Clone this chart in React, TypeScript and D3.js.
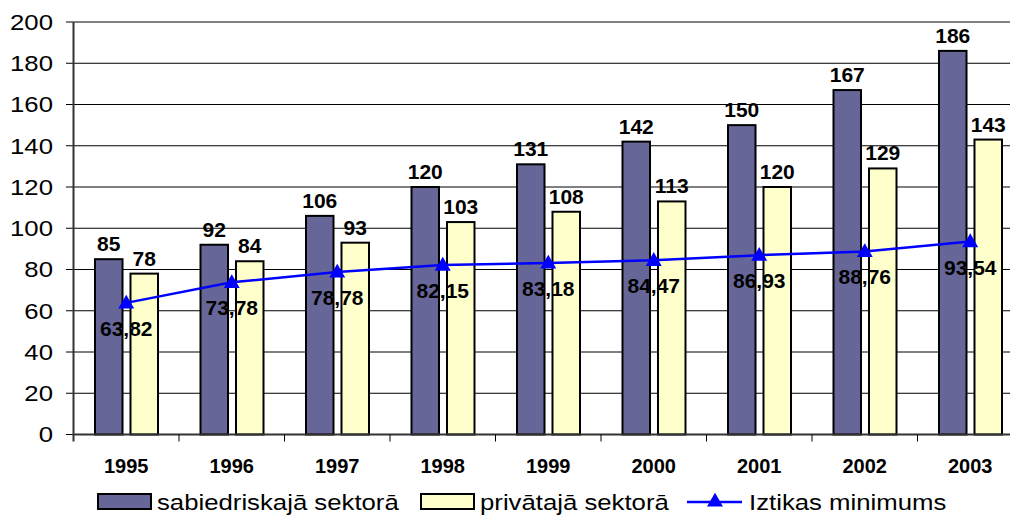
import * as d3 from 'd3'

const years = ['1995', '1996', '1997', '1998', '1999', '2000', '2001', '2002', '2003']
const publicSector = [85, 92, 106, 120, 131, 142, 150, 167, 186]
const privateSector = [78, 84, 93, 103, 108, 113, 120, 129, 143]
const subsistence = [63.82, 73.78, 78.78, 82.15, 83.18, 84.47, 86.93, 88.76, 93.54]
const yTicks = [0, 20, 40, 60, 80, 100, 120, 140, 160, 180, 200]

const seriesNames = ['sabiedriskajā sektorā', 'privātajā sektorā', 'Iztikas minimums']

const W = 1010
const H = 515
const FONT = 'Arial, "Liberation Sans", Helvetica, sans-serif'
// regular text in the source is a little wide
const SX = 1.17

const fmt = (v: number) => v.toFixed(2).replace('.', ',')

export default function App() {
  const left = 73.5
  const step = 105.5
  const x = d3.scaleBand<string>().domain(years).range([left, left + step * years.length])
  const inner = d3.scaleBand<string>()
    .domain(['pub', 'priv'])
    .range([21.5, x.bandwidth() - 21])
    .paddingInner(0.225)
  const y = d3.scaleLinear().domain([0, 200]).range([434.5, 22])

  const line = d3.line<number>()
    .x((_, i) => (x(years[i]) as number) + x.bandwidth() / 2)
    .y(d => y(d))

  const tri = d3.symbol().type(d3.symbolTriangle).size(110)()

  const bars = [
    { key: 'pub', values: publicSector, fill: '#666699' },
    { key: 'priv', values: privateSector, fill: '#FFFFCC' },
  ]

  return (
    <div style={{ position: 'absolute', left: 0, top: 0 }}>
      <svg width={W} height={H} style={{ display: 'block', fontFamily: FONT }}>
        <rect width={W} height={H} fill="#fff" />

        {/* grid */}
        {yTicks.slice(1, -1).map(t => (
          <line key={t} x1={left} x2={W} y1={y(t)} y2={y(t)} stroke="#000" strokeWidth={1} />
        ))}
        <line x1={left} x2={W} y1={y(200)} y2={y(200)} stroke="#808080" strokeWidth={2} />

        {/* y axis */}
        {yTicks.map(t => (
          <g key={t}>
            <line x1={66} x2={left} y1={y(t)} y2={y(t)} stroke="#000" strokeWidth={1} />
            <text transform={`translate(53,${y(t)}) scale(${SX},1)`} dy="0.36em" textAnchor="end"
              fontSize={22} fill="#000">{t}</text>
          </g>
        ))}

        {/* bars */}
        {bars.map(s => s.values.map((v, i) => {
          const bx = (x(years[i]) as number) + (inner(s.key) as number)
          return (
            <rect key={s.key + i} x={bx} y={y(v)} width={inner.bandwidth()} height={y(0) - y(v)}
              fill={s.fill} stroke="#000" strokeWidth={2} />
          )
        }))}
        {bars.map(s => s.values.map((v, i) => {
          const bx = (x(years[i]) as number) + (inner(s.key) as number) + inner.bandwidth() / 2
          return (
            <text key={'l' + s.key + i} x={bx} y={y(v) - 8} textAnchor="middle" fontSize={21}
              fontWeight="bold" fill="#000">{v}</text>
          )
        }))}

        {/* x axis */}
        <line x1={left} x2={W} y1={y(0)} y2={y(0)} stroke="#333" strokeWidth={2} />
        <line x1={left} x2={left} y1={y(200)} y2={y(0) + 7} stroke="#333" strokeWidth={2} />
        {years.map(yr => (
          <g key={yr}>
            <line x1={(x(yr) as number) + x.bandwidth()} x2={(x(yr) as number) + x.bandwidth()}
              y1={y(0)} y2={y(0) + 7} stroke="#000" strokeWidth={1} />
            <text x={(x(yr) as number) + x.bandwidth() / 2} y={473} textAnchor="middle" fontSize={20}
              fontWeight="bold" fill="#000">{yr}</text>
          </g>
        ))}

        {/* line series */}
        <path d={line(subsistence) || ''} fill="none" stroke="#0000FF" strokeWidth={2.5} />
        {subsistence.map((v, i) => {
          const cx = (x(years[i]) as number) + x.bandwidth() / 2
          return (
            <g key={'s' + i}>
              <path d={tri || ''} transform={`translate(${cx},${y(v) + 1})`} fill="#0000FF" />
              <text x={cx} y={y(v) + 33} textAnchor="middle" fontSize={21} fontWeight="bold"
                fill="#000">{fmt(v)}</text>
            </g>
          )
        })}

        {/* legend */}
        <g fontSize={22} fill="#000">
          <rect x={98} y={494} width={53} height={15} fill="#666699" stroke="#000" strokeWidth={2} />
          <text transform={`translate(157,510) scale(${SX},1)`}>{seriesNames[0]}</text>
          <rect x={421} y={494} width={53} height={15} fill="#FFFFCC" stroke="#000" strokeWidth={2} />
          <text transform={`translate(480,510) scale(${SX},1)`}>{seriesNames[1]}</text>
          <line x1={687} x2={742} y1={502} y2={502} stroke="#0000FF" strokeWidth={2.5} />
          <path d={tri || ''} transform="translate(715,502)" fill="#0000FF" />
          <text transform={`translate(749,510) scale(${SX},1)`}>{seriesNames[2]}</text>
        </g>
      </svg>
    </div>
  )
}
